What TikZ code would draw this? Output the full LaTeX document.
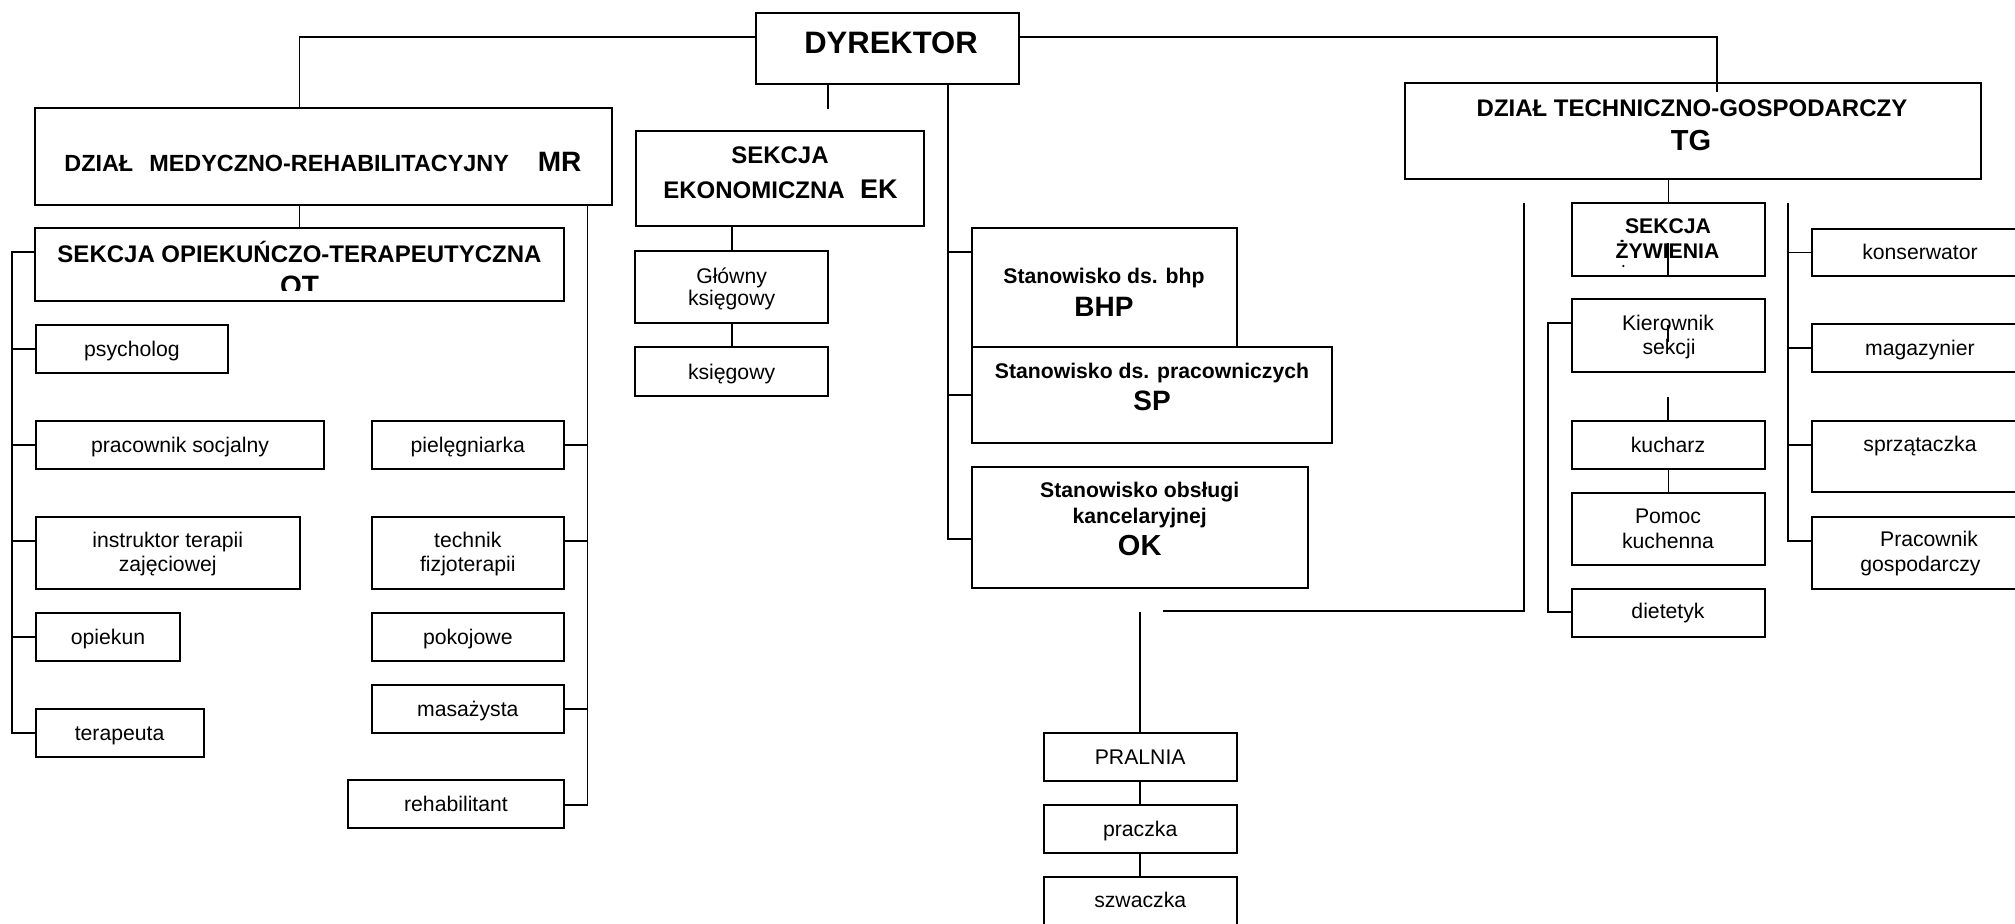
\documentclass[tikz,border=0pt]{standalone}
\usepackage{fontspec}
\setmainfont{Liberation Sans}
\newcommand\fN{\fontsize{10.6}{12}\selectfont}
\newcommand\fB[1]{\fontsize{#1}{#1}\selectfont\bfseries}
\newcounter{tn}
\newcommand\bx[5]{\node[box, minimum width={(#4-#2)*0.5pt}, minimum height={(#5-#3)*0.5pt}] (#1) at ({(#2+#4)/2},{(#3+#5)/2}) {};}
\newcommand\tx[4][]{\stepcounter{tn}\node[txt,#1] (t\arabic{tn}) at (#2,#3) {#4};}
\tikzset{
  box/.style={draw, line width=1pt, inner sep=0pt, outer sep=0pt},
  txt/.style={anchor=base, inner sep=0pt, outer sep=0pt, font=\fN},
  conn/.style={line width=0.9pt}
}
\begin{document}
\begin{tikzpicture}[x=0.5pt,y=-0.5pt]
\useasboundingbox (0,0) rectangle (2015,923);
\clip (0,0) rectangle (2015,923);
% ---------------- boxes
\bx{dyr}{756}{13}{1019}{84}
\bx{mr}{35.4}{108}{612}{204.7}
\bx{ek}{635.7}{130.7}{924.3}{226}
\bx{tg}{1404.6}{83.3}{1980.7}{179.3}
\bx{ot}{35.4}{228.3}{564}{301}
\bx{glowny}{635.4}{251}{827.8}{323.3}
\bx{ksieg}{635.4}{347}{827.8}{395.7}
\bx{bhp}{971.8}{228.3}{1236.5}{346.7}
\bx{sp}{971.8}{346.7}{1332}{443.3}
\bx{ok}{971.8}{466.7}{1308.2}{587.7}
\bx{sz}{1572}{202.7}{1765}{276}
\bx{kier}{1572}{299}{1765}{371.7}
\bx{kuch}{1572}{420.7}{1765}{468.7}
\bx{pomoc}{1572}{492.7}{1765}{565}
\bx{diet}{1572}{589.3}{1765}{636.7}
\bx{kons}{1812}{229}{2030}{276}
\bx{mag}{1812}{324.3}{2030}{371.7}
\bx{sprz}{1812}{420.7}{2030}{491.7}
\bx{pg}{1812}{516.7}{2030}{589}
\bx{psych}{35.6}{325}{228.2}{373.2}
\bx{psoc}{35.6}{420.7}{324.2}{468.6}
\bx{piel}{371.7}{420.7}{563.9}{468.6}
\bx{instr}{35.6}{516.8}{299.7}{588.6}
\bx{tech}{371.7}{516.8}{563.9}{588.6}
\bx{opiek}{35.6}{613.2}{180.3}{661}
\bx{pokoj}{371.7}{613.2}{563.9}{661}
\bx{masaz}{371.7}{685}{563.9}{732.9}
\bx{terap}{35.6}{708.9}{203.6}{756.8}
\bx{rehab}{348}{779.6}{563.9}{827.5}
\bx{praln}{1043.7}{732.7}{1236.7}{781.3}
\bx{pracz}{1043.7}{805}{1236.7}{853.3}
\bx{szwa}{1043.7}{876.7}{1236.7}{940}
% ---------------- junction coordinates
\coordinate (jA) at (299.5,36.7);
\coordinate (jB) at (1717,36.7);
\coordinate (jBe) at (1717,92);
\coordinate (jC) at (827.7,109);
\coordinate (jD) at (948,539.3);
\coordinate (sBHP) at (948,252.3);
\coordinate (jF) at (587.4,804.6);
\coordinate (sTech) at (587.4,541);
\coordinate (jG0) at (12,252.3);
\coordinate (jG) at (12,732.9);
\coordinate (sInstr) at (12,541);
\coordinate (i1) at (1668.3,243);
\coordinate (i2a) at (1668.3,325);
\coordinate (i2b) at (1668.3,342);
\coordinate (i3) at (1668.3,396.7);
\coordinate (jJt) at (1524,202.7);
\coordinate (jJ) at (1524,611);
\coordinate (jJe) at (1163.3,611);
\coordinate (jP) at (1140.2,612.3);
\coordinate (jK0) at (1548.3,323.3);
\coordinate (jK) at (1548.3,611.7);
\coordinate (jL0) at (1788.3,202.7);
\coordinate (jL) at (1788.3,541);
\coordinate (sSprz) at (1788.3,445);
% ---------------- connectors
\draw[conn] (dyr.west |- jA) -- (jA) -- (jA |- mr.north);
\draw[conn] (dyr.east |- jB) -- (jB) -- (jBe);
\draw[conn] (dyr.south -| jC) -- (jC);
\draw[conn] (dyr.south -| jD) -- (jD) -- (jD -| ok.west);
\draw[conn] (sBHP) -- (sBHP -| bhp.west);
\draw[conn] (jD |- sp.west) -- (sp.west);
\draw[conn] (mr.south -| jA) -- (ot.north -| jA);
\draw[conn] (mr.south -| jF) -- (jF) -- (jF -| rehab.east);
\draw[conn] (jF |- piel.east) -- (piel.east);
\draw[conn] (sTech) -- (sTech -| tech.east);
\draw[conn] (jF |- masaz.east) -- (masaz.east);
\draw[conn] (jG0 -| ot.west) -- (jG0) -- (jG) -- (jG -| terap.west);
\draw[conn] (jG |- psych.west) -- (psych.west);
\draw[conn] (jG |- psoc.west) -- (psoc.west);
\draw[conn] (sInstr) -- (sInstr -| instr.west);
\draw[conn] (jG |- opiek.west) -- (opiek.west);
\draw[conn] (glowny.north |- ek.south) -- (glowny.north);
\draw[conn] (glowny.south) -- (ksieg.north);
\draw[conn] (sz.north |- tg.south) -- (sz.north);
\draw[conn] (i1) -- (i1 |- sz.south);
\draw[conn] (i2a) -- (i2b);
\draw[conn] (i3) -- (i3 |- kuch.north);
\draw[conn] (kuch.south) -- (pomoc.north);
\draw[conn] (jJt) -- (jJ) -- (jJe);
\draw[conn] (jP) -- (jP |- praln.north);
\draw[conn] (praln.south) -- (pracz.north);
\draw[conn] (pracz.south) -- (szwa.north);
\draw[conn] (jK0 -| kier.west) -- (jK0) -- (jK) -- (jK -| diet.west);
\draw[conn] (jL0) -- (jL) -- (jL -| pg.west);
\draw[conn] (jL |- kons.west) -- (kons.west);
\draw[conn] (jL |- mag.west) -- (mag.west);
\draw[conn] (sSprz) -- (sSprz -| sprz.west);
\fill (1623.3,266) circle (1.2);
% ---------------- texts
\tx[font=\fB{15.5}]{891}{53.3}{DYREKTOR}
\tx[font=\fB{11.7},anchor=base west]{64.4}{171.7}{DZIAŁ\hspace{8pt}MEDYCZNO-REHABILITACYJNY}
\tx[font=\fB{14},anchor=base west]{537.8}{171.7}{MR}
\tx[font=\fB{12}]{780}{163}{SEKCJA}
\tx[font=\fB{12},anchor=base west]{663.4}{198}{EKONOMICZNA}
\tx[font=\fB{13.5},anchor=base west]{860}{198}{EK}
\tx[font=\fB{12}]{299.5}{262}{SEKCJA OPIEKUŃCZO-TERAPEUTYCZNA}
\begin{scope}
\clip (0,228) rectangle (2015,290);
\tx[font=\fB{14}]{299.6}{295}{OT}
\end{scope}
\tx[font=\fB{12}]{1692}{116.7}{DZIAŁ TECHNICZNO-GOSPODARCZY}
\tx[font=\fB{14.5}]{1691}{150}{TG}
\tx[font=\fB{10.6}]{1668}{233.3}{SEKCJA}
\tx[font=\fB{10.6}]{1667.5}{258.3}{ŻYWIENIA}
\tx{1668}{330.2}{Kierownik}
\tx{1669}{354.5}{sekcji}
\tx{1668}{452}{kucharz}
\tx{1668}{523.3}{Pomoc}
\tx{1668}{548}{kuchenna}
\tx{1668}{618.3}{dietetyk}
\tx{1920}{259}{konserwator}
\tx{1920}{355.5}{magazynier}
\tx{1920}{451.7}{sprzątaczka}
\tx{1929}{546.7}{Pracownik}
\tx{1920.5}{571}{gospodarczy}
\tx[font=\fB{10.6}]{1104}{283.5}{Stanowisko ds. bhp}
\tx[font=\fB{14}]{1104}{316}{BHP}
\tx[font=\fB{10.6}]{1152}{378.5}{Stanowisko ds. pracowniczych}
\tx[font=\fB{14}]{1152}{410}{SP}
\tx[font=\fB{10.6}]{1139.7}{497}{Stanowisko obsługi}
\tx[font=\fB{10.6}]{1139.7}{523}{kancelaryjnej}
\tx[font=\fB{14.5}]{1139.7}{555}{OK}
\tx{731.6}{283.5}{Główny}
\tx{731.6}{305.5}{księgowy}
\tx{731.6}{379}{księgowy}
\tx{131.9}{356.7}{psycholog}
\tx{180}{452.2}{pracownik socjalny}
\tx{467.8}{452.2}{pielęgniarka}
\tx{167.7}{547.2}{instruktor terapii}
\tx{167.7}{571.5}{zajęciowej}
\tx{467.8}{547.2}{technik}
\tx{467.8}{571.5}{fizjoterapii}
\tx{108}{644.7}{opiekun}
\tx{467.8}{644.7}{pokojowe}
\tx{467.8}{716.5}{masażysta}
\tx{119.6}{740.5}{terapeuta}
\tx{456}{811}{rehabilitant}
\tx{1140.2}{764.6}{PRALNIA}
\tx{1140.2}{836.7}{praczka}
\tx{1140.2}{907.5}{szwaczka}
\end{tikzpicture}
\end{document}
